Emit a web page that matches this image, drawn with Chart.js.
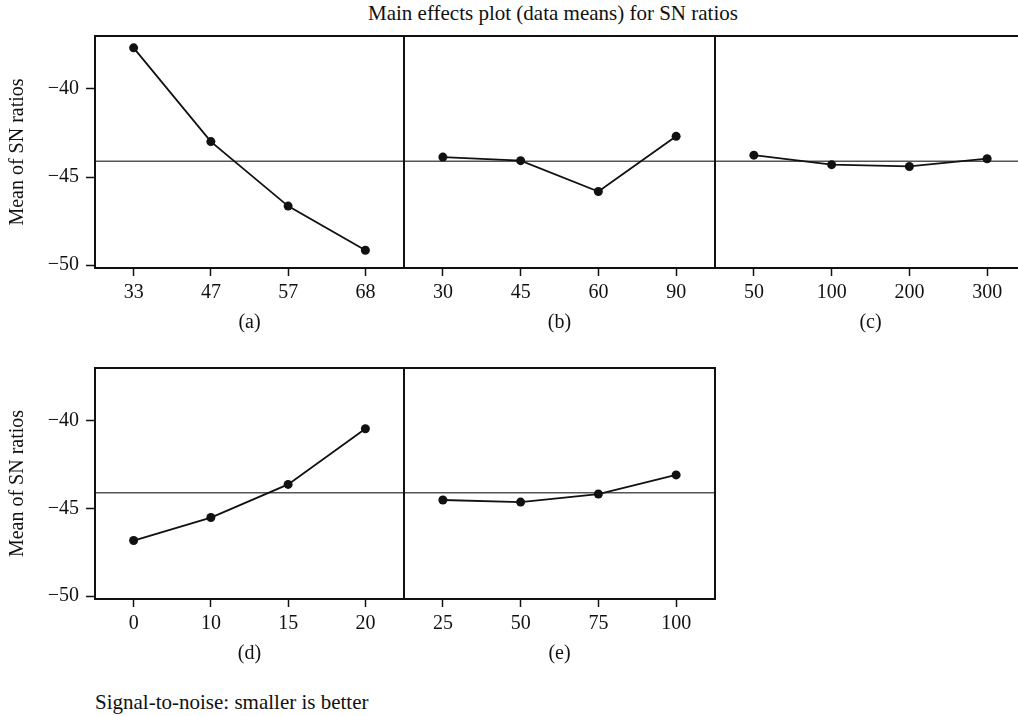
<!DOCTYPE html>
<html>
<head>
<meta charset="utf-8">
<title>Main effects plot (data means) for SN ratios</title>
<script src="https://cdn.jsdelivr.net/npm/chart.js@4.4.1/dist/chart.umd.min.js"></script>
<style>
  html, body { margin: 0; padding: 0; background: #fff; }
  #figure { position: relative; width: 1018px; height: 716px; overflow: hidden; font-family: 'Liberation Serif', serif; color: #111; }
  #figure canvas { position: absolute; }
  .caption { position: absolute; font-size: 21px; line-height: 24px; white-space: nowrap; }
</style>
</head>
<body>
<div id="figure">
  <div class="caption" style="left:368px; top:1px;">Main effects plot (data means) for SN ratios</div>
  <canvas id="panelA"></canvas>
  <canvas id="panelB"></canvas>
  <canvas id="panelC"></canvas>
  <canvas id="panelD"></canvas>
  <canvas id="panelE"></canvas>
  <div class="caption" style="left:95px; top:690px;">Signal-to-noise: smaller is better</div>
</div>
<script>
// factor levels and mean SN ratios
const levelsA = ['33', '47', '57', '68'];
const meansA = [-37.67, -42.99, -46.65, -49.15];
const levelsB = ['30', '45', '60', '90'];
const meansB = [-43.87, -44.07, -45.82, -42.69];
const levelsC = ['50', '100', '200', '300'];
const meansC = [-43.76, -44.30, -44.40, -43.96];
const levelsD = ['0', '10', '15', '20'];
const meansD = [-46.83, -45.52, -43.63, -40.46];
const levelsE = ['25', '50', '75', '100'];
const meansE = [-44.52, -44.64, -44.18, -43.09];

const yTicks = [-50, -45, -40];
const overallMean = -44.11;
const yMin = -50.16;
const yMax = -37.0;

const ink = '#111';
Chart.defaults.font.family = "'Liberation Serif', serif";
Chart.defaults.color = ink;

// box round each panel plus the grand mean reference line
const panelFrame = {
  id: 'panelFrame',
  beforeDatasetsDraw(chart) {
    const { ctx, chartArea: a, scales } = chart;
    const yMean = scales.y.getPixelForValue(overallMean);
    ctx.save();
    ctx.strokeStyle = '#555';
    ctx.lineWidth = 1.5;
    ctx.beginPath();
    ctx.moveTo(a.left, yMean);
    ctx.lineTo(a.right, yMean);
    ctx.stroke();
    ctx.restore();
  },
  afterDraw(chart) {
    const { ctx, chartArea: a } = chart;
    ctx.save();
    ctx.strokeStyle = ink;
    ctx.lineWidth = 2;
    ctx.strokeRect(a.left, a.top, a.right - a.left, a.bottom - a.top);
    ctx.restore();
  }
};

// keep every panel's plot box the same size, whatever the tick labels need
function noPadding(s) {
  s.paddingTop = 0;
  s.paddingBottom = 0;
  s.paddingLeft = 0;
  s.paddingRight = 0;
}

function makePanel(id, levels, means, caption, box, showY) {
  const canvas = document.getElementById(id);
  canvas.width = box.width;
  canvas.height = box.height;
  canvas.style.left = box.left + 'px';
  canvas.style.top = box.top + 'px';

  return new Chart(canvas, {
    type: 'line',
    data: {
      labels: levels,
      datasets: [{
        data: means,
        borderColor: ink,
        borderWidth: 1.8,
        tension: 0,
        pointRadius: 4.5,
        pointBackgroundColor: ink,
        pointBorderWidth: 0,
      }],
    },
    options: {
      responsive: false,
      animation: false,
      layout: { padding: { top: 6, left: showY ? 0 : 6, right: 6, bottom: 0 } },
      plugins: { legend: { display: false }, tooltip: { enabled: false } },
      scales: {
        x: {
          type: 'category',
          offset: true,
          grid: { drawOnChartArea: false, drawTicks: true, tickLength: 8, tickColor: ink, tickWidth: 1.5 },
          border: { display: false },
          ticks: { color: ink, font: { size: 20 }, padding: 5, maxRotation: 0, autoSkip: false },
          title: { display: true, text: caption, color: ink, font: { size: 20 }, padding: { top: 0, bottom: 5 } },
          afterFit: s => { s.height = 72; noPadding(s); },
        },
        y: {
          display: showY,
          min: yMin,
          max: yMax,
          afterBuildTicks: s => { s.ticks = yTicks.map(v => ({ value: v })); },
          grid: { drawOnChartArea: false, drawTicks: true, tickLength: 9, tickColor: ink, tickWidth: 1.5 },
          border: { display: false },
          ticks: {
            color: ink,
            font: { size: 20 },
            padding: 7,
            callback: v => (v < 0 ? '\u2212' + Math.abs(v) : String(v)),
          },
          title: { display: true, text: 'Mean of SN ratios', color: ink, font: { size: 20 }, padding: { top: 6, bottom: 0 } },
          afterFit: s => { s.width = showY ? 95 : 0; noPadding(s); },
        },
      },
    },
    plugins: [panelFrame],
  });
}

makePanel('panelA', levelsA, meansA, '(a)', { left: 0, top: 30, width: 410, height: 310 }, true);
makePanel('panelB', levelsB, meansB, '(b)', { left: 398, top: 30, width: 323, height: 310 }, false);
makePanel('panelC', levelsC, meansC, '(c)', { left: 709, top: 30, width: 323, height: 310 }, false);
makePanel('panelD', levelsD, meansD, '(d)', { left: 0, top: 362, width: 410, height: 309 }, true);
makePanel('panelE', levelsE, meansE, '(e)', { left: 398, top: 362, width: 323, height: 309 }, false);
</script>
</body>
</html>
